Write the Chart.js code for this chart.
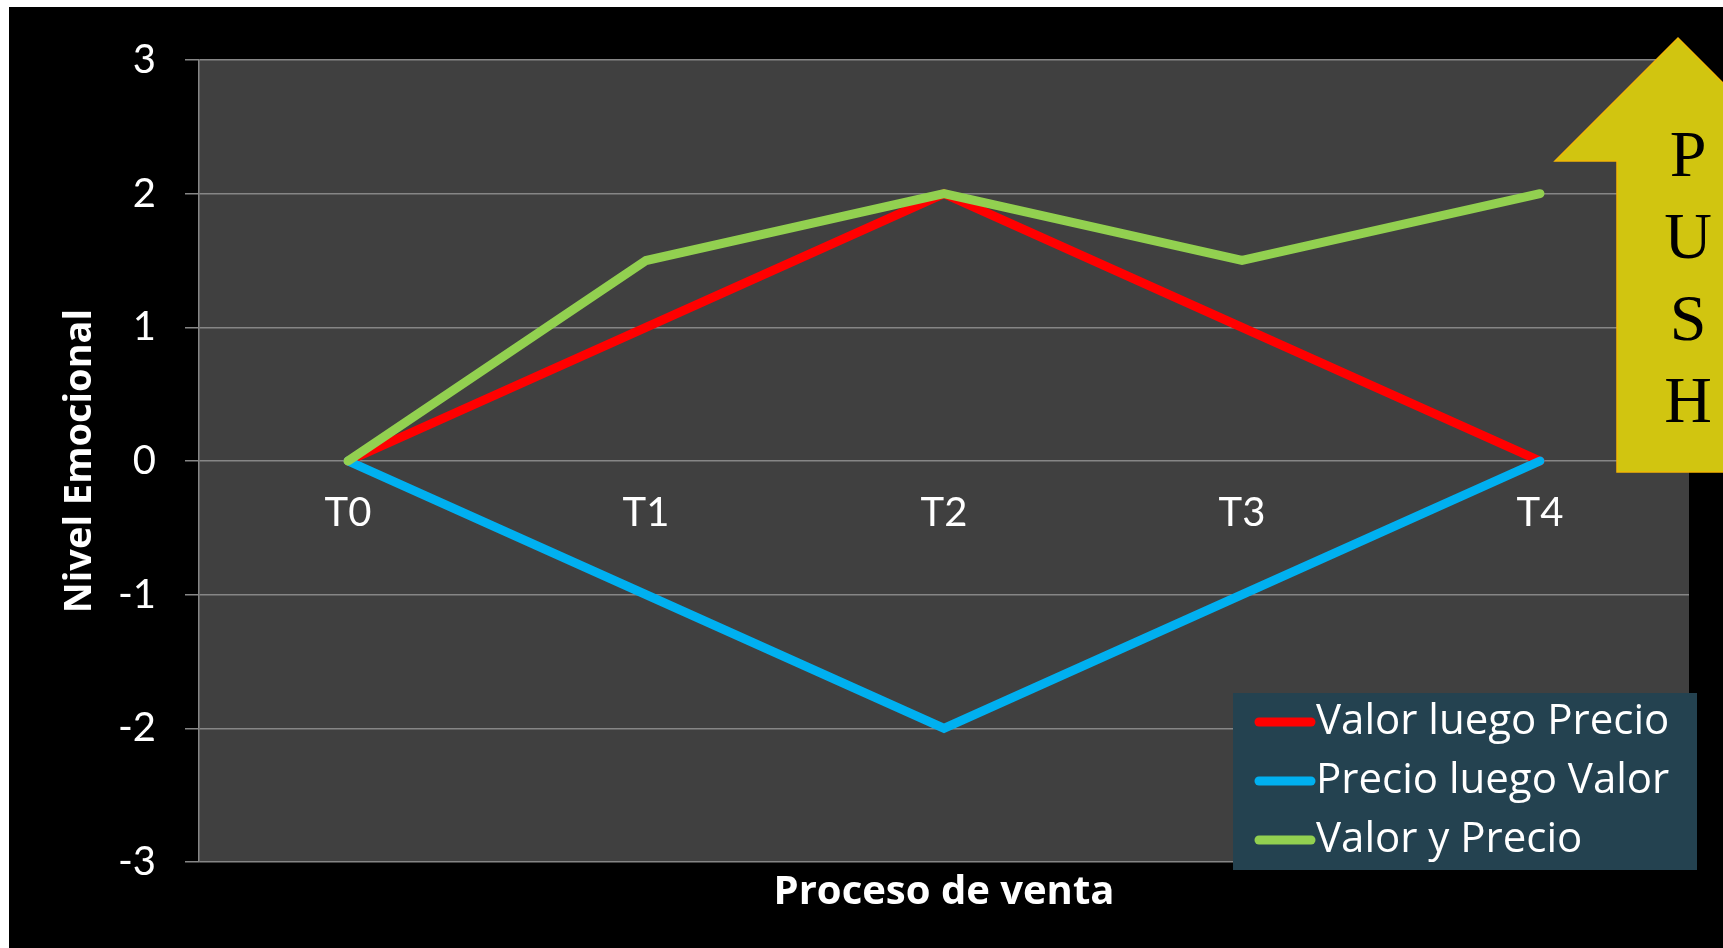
<!DOCTYPE html>
<html>
<head>
<meta charset="utf-8">
<script src="https://cdn.jsdelivr.net/npm/chart.js@4.4.1/dist/chart.umd.min.js"></script>
<style>
  html, body { margin: 0; padding: 0; background: #ffffff; overflow: hidden; }
  #wrap { position: absolute; left: 9px; top: 7px; width: 1714px; height: 941px; background: #000000; }
</style>
</head>
<body>
<div id="wrap"><canvas id="emocionChart" width="1714" height="941"></canvas></div>
<script>
// Etapas del proceso de venta
const etapas = ['T0', 'T1', 'T2', 'T3', 'T4'];

// Nivel emocional por estrategia
const valorLuegoPrecio = [0, 1, 2, 1, 0];
const precioLuegoValor = [0, -1, -2, -1, 0];
const valorYPrecio = [0, 1.5, 2, 1.5, 2];

const nombresSeries = ['Valor luego Precio', 'Precio luego Valor', 'Valor y Precio'];
const coloresSeries = ['#ff0000', '#00b0f0', '#92d050'];

const fuente = 'Lato, "Open Sans", sans-serif';
const fuenteAncha = '"Open Sans", Lato, sans-serif';
const letrasFlecha = ['P', 'U', 'S', 'H'];

// Fondo gris del área de trazado
const fondoArea = {
    id: 'fondoArea',
    beforeDraw(chart) {
        const { ctx, chartArea: a } = chart;
        ctx.save();
        ctx.fillStyle = '#404040';
        ctx.fillRect(a.left, a.top, a.right - a.left, a.bottom - a.top);
        ctx.restore();
    }
};

// Título del eje X, leyenda y flecha PUSH
const extras = {
    id: 'extras',
    afterDraw(chart) {
        const { ctx, chartArea: a } = chart;
        ctx.save();

        // título eje X
        ctx.fillStyle = '#ffffff';
        ctx.font = 'bold 40px ' + fuenteAncha;
        ctx.textAlign = 'center';
        ctx.textBaseline = 'middle';
        ctx.fillText('Proceso de venta', (a.left + a.right) / 2, 886);

        // leyenda
        ctx.fillStyle = '#244250';
        ctx.fillRect(1224, 686, 464, 177);
        ctx.lineCap = 'round';
        ctx.lineWidth = 9;
        ctx.font = '42px ' + fuenteAncha;
        ctx.textAlign = 'left';
        chart.data.datasets.forEach((ds, i) => {
            const y = 715 + i * 59;
            ctx.strokeStyle = ds.borderColor;
            ctx.beginPath();
            ctx.moveTo(1250, y);
            ctx.lineTo(1302, y);
            ctx.stroke();
            ctx.fillStyle = '#ffffff';
            ctx.fillText(ds.label, 1307, y);
        });

        // flecha
        ctx.beginPath();
        ctx.moveTo(1669, 31);
        ctx.lineTo(1792, 154);
        ctx.lineTo(1730, 154);
        ctx.lineTo(1730, 465);
        ctx.lineTo(1608, 465);
        ctx.lineTo(1608, 154);
        ctx.lineTo(1546, 154);
        ctx.closePath();
        ctx.fillStyle = '#d1c510';
        ctx.fill();
        ctx.lineWidth = 1.5;
        ctx.strokeStyle = '#f2b705';
        ctx.stroke();

        ctx.fillStyle = '#000000';
        ctx.font = '66px "Liberation Serif", "Times New Roman", serif';
        ctx.textAlign = 'center';
        letrasFlecha.forEach((l, i) => {
            ctx.fillText(l, 1679, 152 + i * 82);
        });
        ctx.restore();
    }
};

const series = [valorLuegoPrecio, precioLuegoValor, valorYPrecio];

new Chart(document.getElementById('emocionChart'), {
    type: 'line',
    data: {
        labels: etapas,
        datasets: series.map((valores, i) => ({
            label: nombresSeries[i],
            data: valores,
            borderColor: coloresSeries[i],
            backgroundColor: coloresSeries[i],
            borderWidth: 9,
            borderCapStyle: 'round',
            pointRadius: 0,
            tension: 0,
            order: 3 - i
        }))
    },
    options: {
        responsive: false,
        animation: false,
        layout: { padding: { top: 52, right: 34, bottom: 86, left: 0 } },
        plugins: {
            legend: { display: false },
            tooltip: { enabled: false }
        },
        scales: {
            x: {
                position: { y: 0 },
                offset: true,
                grid: { display: false, drawTicks: false },
                border: { display: false },
                ticks: { color: '#ffffff', font: { family: fuente, size: 40 }, padding: 28 }
            },
            y: {
                min: -3,
                max: 3,
                ticks: { stepSize: 1, color: '#ffffff', font: { family: fuente, size: 40 }, padding: 29 },
                grid: { color: '#868686', lineWidth: 1.5, tickLength: 14 },
                border: { color: '#868686', width: 1.5 },
                title: {
                    display: true,
                    text: 'Nivel Emocional',
                    color: '#ffffff',
                    font: { family: fuenteAncha, size: 38, weight: 'bold' },
                    padding: { top: 48 }
                },
                afterFit(scale) { scale.width = 190; }
            }
        }
    },
    plugins: [fondoArea, extras]
});
</script>
</body>
</html>
